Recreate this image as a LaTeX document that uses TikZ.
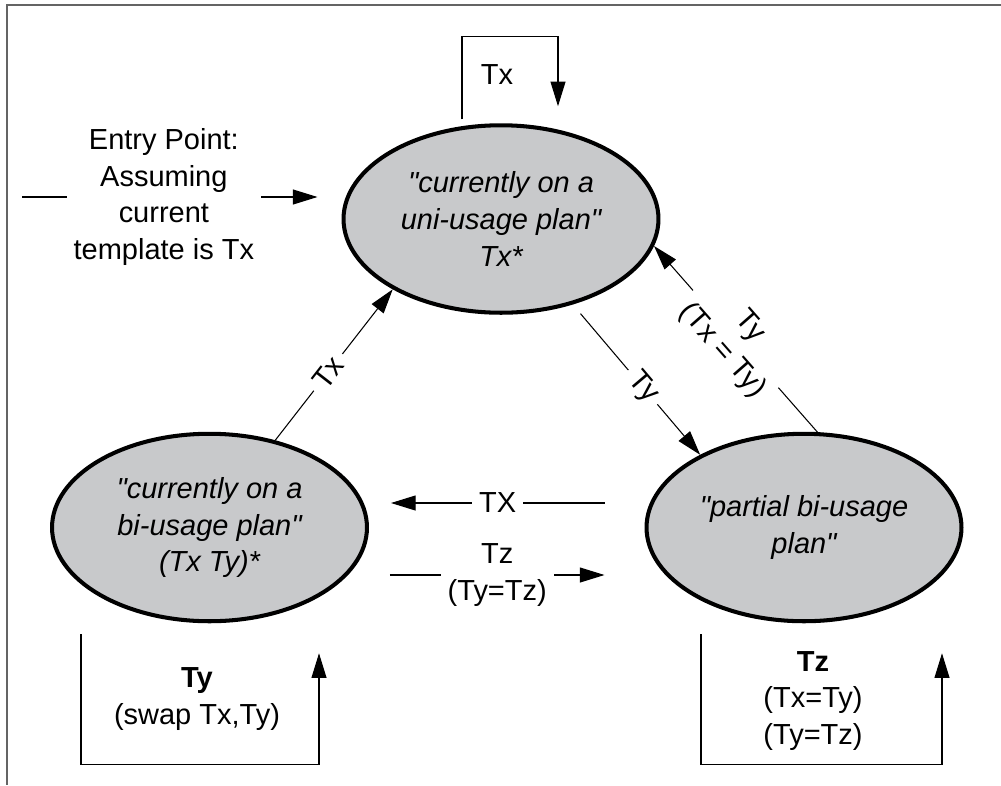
\documentclass[tikz,border=0pt]{standalone}
\usepackage{fontspec}
\setmainfont{Liberation Sans}[Ligatures=TeXOff]
\usetikzlibrary{shapes.geometric,arrows.meta}
\definecolor{stategray}{RGB}{200,201,203}
\definecolor{framegray}{RGB}{100,100,100}
\tikzset{
  state/.style={draw=black, line width=2.3pt, fill=stategray, ellipse,
    minimum width=6.3cm, minimum height=3.75cm, inner sep=1pt, align=center,
    font=\fontsize{16.5}{21}\selectfont\itshape},
  conn/.style={line width=0.6pt, -{Triangle[length=14pt,width=8.5pt]}},
  lbl/.style={fill=white, inner sep=4pt, align=center,
    font=\fontsize{16.5}{21}\selectfont}
}
\begin{document}
\begin{tikzpicture}[x=0.02cm, y=-0.02cm]
  \useasboundingbox (0,0) rectangle (1001,785);
  \draw[framegray, line width=1.2pt] (1001,5) -| (7,785);

  \node[state] (U) at (501,219) {"currently on a\\uni-usage plan"\\Tx*};
  \node[state] (B) at (209.5,527.5) {"currently on a\\bi-usage plan"\\(Tx Ty)*};
  \node[state] (P) at (804,527.5) {"partial bi-usage\\plan"};

  % entry point
  \coordinate (entry) at (22,197);
  \draw[conn, shorten >=0.48cm] (entry) -- node[lbl, pos=0.444] (E)
    {Entry Point:\\Assuming\\current\\template is Tx} (entry -| U.west);

  % transitions between the states
  \draw[conn] (B.53) -- node[lbl, sloped, pos=0.45] (bu) {Tx} (U.213);
  \draw[conn, shorten <=0.24cm] (U.-50) -- node[lbl, sloped, pos=0.55] (up) {Ty} (P.145.6);
  \draw[conn] (P.82) -- node[lbl, sloped] (pu) {Ty\\(Tx = Ty)} (U.-10.7);
  \draw[conn] ([shift={(-40,-24.5)}]P.west) -- node[lbl] (pb) {TX} ([shift={(22,-24.5)}]B.east);
  \draw[conn] ([shift={(21,47.5)}]B.east) -- node[lbl] (bp) {Tz\\(Ty=Tz)} ([shift={(-40,47.5)}]P.west);

  % self loops
  \draw[conn] ([shift={(-39,-4)}]U.north) -- ++(0,-83) -- ++(96,0) -- ++(0,70);
  \node[lbl, fill=none] (uloop) at (497,75) {Tx};

  \draw[conn] ([shift={(-128.5,11)}]B.south) -- ++(0,130) -- ++(238,0) -- ++(0,-111);
  \node[lbl, fill=none] (bloop) at (197,699) {\textbf{Ty}\\(swap Tx,Ty)};

  \draw[conn] ([shift={(-103,11)}]P.south) -- ++(0,130) -- ++(241,0) -- ++(0,-111);
  \node[lbl, fill=none] (ploop) at (813,701) {\textbf{Tz}\\(Tx=Ty)\\(Ty=Tz)};
\end{tikzpicture}
\end{document}
